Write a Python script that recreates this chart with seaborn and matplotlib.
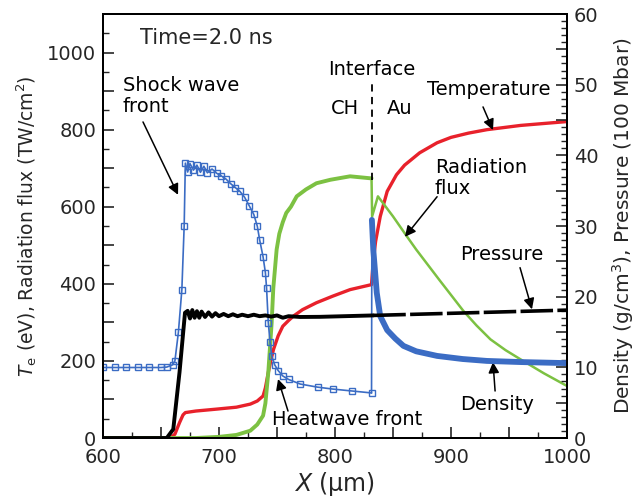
import matplotlib
matplotlib.use("Agg")
import matplotlib.pyplot as plt
import seaborn as sns
from matplotlib.ticker import MultipleLocator, FuncFormatter

# Temperature (eV) and radiation flux (TW/cm2) -> left axis
temp_x = [600, 658, 662, 666, 669, 671, 680, 698, 715, 727, 733, 738, 740, 742.5, 745, 747,
          751, 755, 760, 764, 772, 784, 798, 813, 831.5, 832, 833, 835, 839, 845, 853, 860,
          873, 888, 900, 915, 931, 960, 1000]
temp_y = [0, 0, 10, 40, 60, 66, 70, 75, 80, 88, 96, 109, 130, 170, 205, 230,
          265, 290, 305, 316, 333, 351, 368, 385, 398, 420, 460, 510, 575, 640, 683, 708,
          740, 766, 780, 791, 800, 811, 821]

flux_x = [600, 680, 700, 715, 727, 733, 738, 740, 742.5, 745.4, 746.8, 749.7, 752, 755, 758,
          762, 767, 775, 784, 796, 813, 830, 831.5,
          832, 837, 850, 862, 870, 890, 910.6, 922, 934, 947, 960, 980, 1000]
flux_y = [0, 0, 3, 8, 19, 35, 58, 90, 170, 299, 388, 489, 530, 560, 584,
          600, 627, 645, 661, 670, 679, 674, 674,
          575, 627, 575, 523, 489, 410, 330, 292, 256, 228, 204, 168, 135]
flux_split = 23  # first point in Au

# Density (g/cm3) and pressure (100 Mbar) -> right axis
dens_x = [600, 610, 620, 630, 640, 650, 655, 660, 662, 665, 668, 670, 671, 673, 675, 678, 681,
          684, 687, 690, 694, 698, 702, 706, 710, 714, 718, 722, 726, 730, 733, 735, 738, 740,
          741, 742.5, 744, 745.5, 748, 751, 755, 760, 770, 785, 798, 815, 831.5,
          831.8, 833, 836, 839, 845, 852, 859, 870, 888, 910, 931, 960, 1000]
dens_y = [9.98, 9.98, 9.98, 9.98, 9.98, 9.98, 10.04, 10.36, 10.91, 14.95, 21.0, 30.06, 38.9,
          37.64, 38.84, 37.91, 38.62, 37.6, 38.46, 37.53, 38.07, 37.47, 37.09, 36.65, 36.0, 35.45,
          34.91, 34.09, 32.89, 31.64, 30.0, 28.09, 25.64, 23.4, 21.27, 16.31, 13.64, 11.62, 10.36,
          9.55, 8.78, 8.29, 7.64, 7.2, 6.93, 6.65, 6.38,
          30.87, 26.67, 20.56, 17.24, 15.27, 14.07, 13.04, 12.27, 11.62, 11.18, 10.91, 10.75, 10.6]
dens_split = 47  # first point of the vertical jump at the interface

pres_x = [600, 655, 660.6, 666, 670.7, 673, 675, 677, 679, 681, 683, 685, 688, 691, 694, 697,
          700, 704, 708, 712, 716, 720, 725, 730, 735, 740, 745, 750, 755, 760, 770, 787, 833,
          900, 1000]
pres_y = [0, 0, 1.25, 9.33, 17.73, 18.0, 16.91, 18.11, 17.02, 17.95, 17.02, 17.89, 17.13, 17.78,
          17.18, 17.67, 17.24, 17.56, 17.24, 17.51, 17.24, 17.45, 17.24, 17.45, 17.24, 17.35,
          17.18, 17.35, 17.02, 17.24, 17.13, 17.15, 17.35, 17.65, 18.1]
pres_split = 32

interface_x = [831.6, 831.6]
interface_y = [670, 921]

blue = "#3b6cc4"
red = "#e8212b"
green = "#7cc142"

sns.set_style("ticks")
plt.rcParams["font.family"] = ["DejaVu Sans"]
plt.rcParams["mathtext.fontset"] = "dejavusans"

fig = plt.figure(figsize=(6.42, 5.01), dpi=100)
ax = fig.add_axes([0.1604, 0.1257, 0.7228, 0.8463])
ax2 = ax.twinx()

line_kw = dict(estimator=None, sort=False, legend=False)

sns.lineplot(x=temp_x, y=temp_y, ax=ax, color=red, lw=2.4, **line_kw)
sns.lineplot(x=flux_x[:flux_split], y=flux_y[:flux_split], ax=ax, color=green, lw=2.8, **line_kw)
sns.lineplot(x=flux_x[flux_split - 1:], y=flux_y[flux_split - 1:], ax=ax, color=green, lw=1.8,
             **line_kw)
sns.lineplot(x=interface_x, y=interface_y, ax=ax, color="black", lw=1.3, linestyle=(0, (4, 3)),
             **line_kw)

sns.lineplot(x=dens_x[:dens_split], y=dens_y[:dens_split], ax=ax2, color=blue, lw=1.2,
             marker="s", markersize=4, markerfacecolor="none", markeredgecolor=blue,
             markeredgewidth=1.0, **line_kw)
sns.lineplot(x=dens_x[dens_split - 1:dens_split + 1], y=dens_y[dens_split - 1:dens_split + 1],
             ax=ax2, color=blue, lw=1.2, **line_kw)
sns.lineplot(x=dens_x[dens_split:], y=dens_y[dens_split:], ax=ax2, color=blue, lw=4.2, **line_kw)
sns.lineplot(x=pres_x[:pres_split + 1], y=pres_y[:pres_split + 1], ax=ax2, color="black", lw=2.8,
             **line_kw)
sns.lineplot(x=pres_x[pres_split:], y=pres_y[pres_split:], ax=ax2, color="black", lw=2.6,
             linestyle=(0, (9, 1.2)), **line_kw)

ax.set_xlim(600, 1000)
ax.set_ylim(0, 1100)
ax2.set_ylim(0, 60)

def every(step):
    return FuncFormatter(lambda v, p: f"{v:.0f}" if abs(v / step - round(v / step)) < 1e-6 else "")

ax.xaxis.set_major_locator(MultipleLocator(50))
ax.xaxis.set_minor_locator(MultipleLocator(25))
ax.xaxis.set_major_formatter(every(100))
ax.yaxis.set_major_locator(MultipleLocator(100))
ax.yaxis.set_minor_locator(MultipleLocator(50))
ax.yaxis.set_major_formatter(every(200))
ax2.yaxis.set_major_locator(MultipleLocator(5))
ax2.yaxis.set_minor_locator(MultipleLocator(1))
ax2.yaxis.set_major_formatter(every(10))

for a in (ax, ax2):
    a.tick_params(which="major", direction="in", length=8, width=1.2, labelsize=14, pad=5)
    a.tick_params(which="minor", direction="in", length=4, width=1.0)
    for s in a.spines.values():
        s.set_linewidth(1.4)
        s.set_color("black")
ax.tick_params(axis="x", which="major", pad=7)
ax.tick_params(axis="y", which="both", right=False)
ax2.tick_params(axis="y", which="both", left=False)

ax.set_xlabel(r"$X$ (μm)", fontsize=17, labelpad=2)
ax.set_ylabel(r"$T_{\rm e}$ (eV), Radiation flux (TW/cm$^2$)", fontsize=13.5, labelpad=6)
ax2.set_ylabel(r"Density (g/cm$^3$), Pressure (100 Mbar)", fontsize=14.5, labelpad=8)

txt = dict(fontsize=14, color="black")
ax.text(632, 1037, "Time=2.0 ns", fontsize=15, va="center", ha="left")
ax.text(617, 887, "Shock wave\nfront", va="center", ha="left", linespacing=1.1, **txt)
ax.text(831.9, 955, "Interface", va="center", ha="center", **txt)
ax.text(808.6, 856, "CH", va="center", ha="center", **txt)
ax.text(856, 856, "Au", va="center", ha="center", **txt)
ax.text(879.3, 903, "Temperature", va="center", ha="left", **txt)
ax.text(886, 674, "Radiation\nflux", va="center", ha="left", linespacing=1.1, **txt)
ax.text(907.8, 476, "Pressure", va="center", ha="left", **txt)
ax.text(907.8, 88, "Density", va="center", ha="left", **txt)
ax.text(745.7, 49, "Heatwave front", va="center", ha="left", **txt)

arrows = [((634.5, 820), (664.7, 631)),
          ((927.6, 859), (936.2, 799)),
          ((888, 626), (860.3, 522)),
          ((959.5, 442), (969.8, 334)),
          ((938, 122), (936.2, 197)),
          ((759.5, 70), (750.9, 153))]
for start, end in arrows:
    ax.annotate("", xy=end, xytext=start,
                arrowprops=dict(arrowstyle="-|>", color="black", lw=1.1, mutation_scale=16,
                                shrinkA=0, shrinkB=0))

fig.savefig("out.png", dpi=100)
